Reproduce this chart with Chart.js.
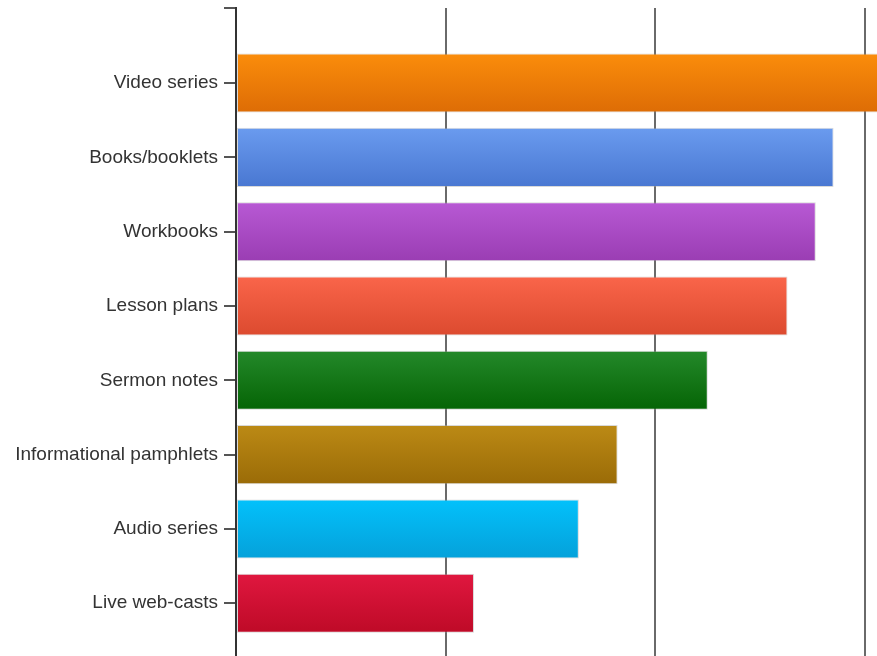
<!DOCTYPE html>
<html>
<head>
<meta charset="utf-8">
<script src="https://cdn.jsdelivr.net/npm/chart.js@4/dist/chart.umd.min.js"></script>
<style>
  html, body { margin: 0; padding: 0; background: #fff; }
  #wrap { width: 877px; height: 656px; position: relative; }
</style>
</head>
<body>
<div id="wrap"><canvas id="c"></canvas></div>
<script>
const categories = ["Video series", "Books/booklets", "Workbooks", "Lesson plans", "Sermon notes", "Informational pamphlets", "Audio series", "Live web-casts"];
const values = [32, 28.5, 27.65, 26.3, 22.5, 18.2, 16.35, 11.35];
const topColors = ["#FB8D0B", "#6A9BEF", "#B859D4", "#FA654A", "#24892A", "#BC8A15", "#03C1FB", "#E0173F"];
const bottomColors = ["#DD6C05", "#4977D1", "#9A3DB3", "#DC4A2F", "#056405", "#9A6B07", "#05A1DA", "#BE0A27"];
const gridTicks = [0, 10, 20, 30];

const points = values.map((v, i) => ({ x: v, y: i }));

function grad(ctx, topArr, botArr) {
  const chart = ctx.chart;
  if (!chart.chartArea || ctx.type !== 'data') return topArr[ctx.dataIndex || 0];
  const ys = chart.scales.y;
  const yc = ys.getPixelForValue(ctx.dataIndex);
  const half = Math.abs(ys.getPixelForValue(1) - ys.getPixelForValue(0)) * 0.4;
  const g = chart.ctx.createLinearGradient(0, yc - half, 0, yc + half);
  g.addColorStop(0, topArr[ctx.dataIndex]);
  g.addColorStop(1, botArr[ctx.dataIndex]);
  return g;
}

new Chart(document.getElementById('c'), {
  type: 'bar',
  data: {
    datasets: [{
      data: points,
      backgroundColor: (ctx) => grad(ctx, topColors, bottomColors),
      borderColor: 'rgba(170,170,170,0.45)',
      borderWidth: 1,
      borderSkipped: false,
      barPercentage: 0.795,
      categoryPercentage: 1
    }]
  },
  options: {
    indexAxis: 'y',
    responsive: true,
    maintainAspectRatio: false,
    animation: false,
    layout: { padding: { top: 8, left: 0, right: 0, bottom: 0 } },
    plugins: { legend: { display: false }, tooltip: { enabled: false } },
    scales: {
      x: {
        type: 'linear',
        min: 0,
        max: 30.57,
        position: 'bottom',
        offset: false,
        afterBuildTicks: (s) => { s.ticks = gridTicks.map(v => ({ value: v })); },
        afterFit: (s) => { s.height = 0; s.paddingLeft = 0; s.paddingRight = 0; },
        ticks: { display: false },
        grid: { color: '#6a6a6a', lineWidth: 2, drawTicks: false, offset: false },
        border: { display: false }
      },
      y: {
        type: 'linear',
        min: -1.01,
        max: 7.71,
        reverse: true,
        offset: false,
        afterBuildTicks: (s) => {
          s.ticks = [{ value: -1.01 }].concat(categories.map((c, i) => ({ value: i })));
        },
        afterFit: (s) => { s.width = 236; s.paddingTop = 0; s.paddingBottom = 0; },
        ticks: {
          callback: (v) => (Number.isInteger(v) && categories[v] !== undefined) ? categories[v] : '',
          color: '#333',
          font: { family: 'Liberation Sans', size: 19 },
          padding: 6
        },
        grid: { drawOnChartArea: false, drawTicks: true, tickLength: 12, color: '#555', lineWidth: 2, offset: false },
        border: { display: true, color: '#333', width: 2 }
      }
    }
  }
});
</script>
</body>
</html>
